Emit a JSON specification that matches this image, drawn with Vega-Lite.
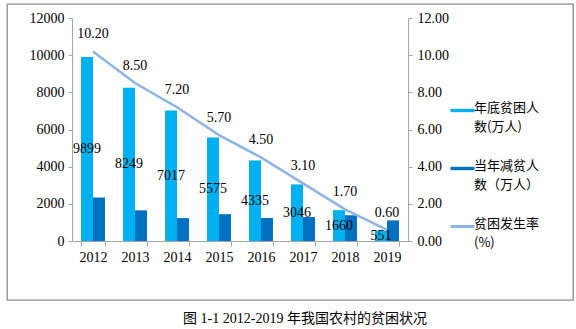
{
  "$schema": "https://vega.github.io/schema/vega-lite/v6.json",
  "width": 566,
  "height": 296,
  "padding": {"left": 7, "top": 4, "right": 3, "bottom": 4},
  "background": "white",
  "config": {
    "view": {"stroke": "#8C8C8C", "strokeWidth": 1.3},
    "font": "Liberation Serif, Noto Sans CJK SC",
    "axis": {
      "grid": false,
      "domainColor": "#A6A6A6",
      "tickColor": "#A6A6A6",
      "labelColor": "#000000",
      "labelFont": "Liberation Serif",
      "labelFontSize": 14,
      "title": null
    }
  },
  "title": {
    "text": "图 1-1 2012-2019 年我国农村的贫困状况",
    "orient": "bottom",
    "anchor": "middle",
    "font": "Liberation Serif, Noto Sans CJK SC",
    "fontSize": 14,
    "fontWeight": "normal",
    "color": "#000000",
    "offset": 12,
    "dx": 15
  },
  "datasets": {
    "people": [
      {"year": "2012", "series": "年底贫困人数(万人)", "value": 9899},
      {"year": "2012", "series": "当年减贫人数（万人）", "value": 2339},
      {"year": "2013", "series": "年底贫困人数(万人)", "value": 8249},
      {"year": "2013", "series": "当年减贫人数（万人）", "value": 1650},
      {"year": "2014", "series": "年底贫困人数(万人)", "value": 7017},
      {"year": "2014", "series": "当年减贫人数（万人）", "value": 1232},
      {"year": "2015", "series": "年底贫困人数(万人)", "value": 5575},
      {"year": "2015", "series": "当年减贫人数（万人）", "value": 1442},
      {"year": "2016", "series": "年底贫困人数(万人)", "value": 4335},
      {"year": "2016", "series": "当年减贫人数（万人）", "value": 1240},
      {"year": "2017", "series": "年底贫困人数(万人)", "value": 3046},
      {"year": "2017", "series": "当年减贫人数（万人）", "value": 1289},
      {"year": "2018", "series": "年底贫困人数(万人)", "value": 1660},
      {"year": "2018", "series": "当年减贫人数（万人）", "value": 1386},
      {"year": "2019", "series": "年底贫困人数(万人)", "value": 551},
      {"year": "2019", "series": "当年减贫人数（万人）", "value": 1109}
    ],
    "rate": [
      {"year": "2012", "series": "贫困发生率(%)", "rate": 10.2},
      {"year": "2013", "series": "贫困发生率(%)", "rate": 8.5},
      {"year": "2014", "series": "贫困发生率(%)", "rate": 7.2},
      {"year": "2015", "series": "贫困发生率(%)", "rate": 5.7},
      {"year": "2016", "series": "贫困发生率(%)", "rate": 4.5},
      {"year": "2017", "series": "贫困发生率(%)", "rate": 3.1},
      {"year": "2018", "series": "贫困发生率(%)", "rate": 1.7},
      {"year": "2019", "series": "贫困发生率(%)", "rate": 0.6}
    ]
  },
  "encoding": {
    "x": {
      "field": "year",
      "type": "nominal",
      "scale": {"range": [65, 401], "paddingInner": 0.43, "paddingOuter": 0.215},
      "axis": {
        "orient": "bottom",
        "offset": -59,
        "labelAngle": 0,
        "tickBand": "extent",
        "tickSize": 5,
        "labelPadding": 4
      }
    }
  },
  "layer": [
    {
      "data": {"name": "people"},
      "mark": {"type": "bar"},
      "encoding": {
        "xOffset": {
          "field": "series",
          "type": "nominal",
          "scale": {"domain": ["年底贫困人数(万人)", "当年减贫人数（万人）"], "paddingInner": 0}
        },
        "y": {
          "field": "value",
          "type": "quantitative",
          "scale": {"domain": [0, 12000], "range": [237, 14], "nice": false},
          "axis": {
            "orient": "left",
            "offset": -65,
            "values": [0, 2000, 4000, 6000, 8000, 10000, 12000],
            "format": "d",
            "tickSize": 4,
            "labelPadding": 4
          }
        },
        "color": {
          "field": "series",
          "type": "nominal",
          "scale": {
            "domain": ["年底贫困人数(万人)", "当年减贫人数（万人）", "贫困发生率(%)"],
            "range": ["#00B0F0", "#0070C0", "#8EB4E3"]
          },
          "legend": {
            "orient": "none",
            "legendX": 449,
            "legendY": 100,
            "title": null,
            "symbolSize": 576,
            "labelFont": "Noto Sans CJK SC",
            "labelFontSize": 13,
            "labelColor": "#000000",
            "labelOffset": 5,
            "labelBaseline": "top",
            "labelLimit": 200,
            "rowPadding": 25,
            "labelExpr": "datum.value == '年底贫困人数(万人)' ? ['年底贫困人', '数(万人)'] : datum.value == '当年减贫人数（万人）' ? ['当年减贫人', '数（万人）'] : ['贫困发生率', '(%)']",
            "encode": {
              "symbols": {
                "update": {
                  "shape": {"signal": "datum.value == '贫困发生率(%)' ? 'M-1,0H1' : 'M-1,-0.14H1V0.14H-1Z'"},
                  "fill": {"signal": "datum.value == '贫困发生率(%)' ? 'transparent' : scale('color', datum.value)"},
                  "stroke": {"signal": "scale('color', datum.value)"},
                  "strokeWidth": {"signal": "datum.value == '贫困发生率(%)' ? 3 : 0"},
                  "opacity": {"value": 1}
                }
              },
              "labels": {
                "update": {
                  "lineHeight": {"value": 19},
                  "dy": {"value": -9}
                }
              }
            }
          }
        }
      }
    },
    {
      "data": {"name": "people"},
      "transform": [{"filter": "datum.series == '年底贫困人数(万人)'"}],
      "mark": {"type": "text", "fontSize": 14, "font": "Liberation Serif", "color": "#000000", "baseline": "middle"},
      "encoding": {
        "xOffset": {"field": "series", "type": "nominal"},
        "y": {
          "field": "value",
          "type": "quantitative",
          "scale": {"domain": [0, 24000], "range": [237, 14], "nice": false},
          "axis": null
        },
        "text": {"field": "value", "type": "quantitative", "format": "d"}
      }
    },
    {
      "data": {"name": "rate"},
      "layer": [
        {
          "mark": {"type": "line", "strokeWidth": 2.5},
          "encoding": {
            "color": {"field": "series", "type": "nominal"}
          }
        },
        {
          "mark": {"type": "text", "fontSize": 14, "font": "Liberation Serif", "color": "#000000", "baseline": "middle", "dy": -17},
          "encoding": {
            "text": {"field": "rate", "type": "quantitative", "format": ".2f"}
          }
        }
      ],
      "encoding": {
        "y": {
          "field": "rate",
          "type": "quantitative",
          "scale": {"domain": [0, 12], "range": [237, 14], "nice": false},
          "axis": {
            "orient": "right",
            "offset": -165,
            "values": [0, 2, 4, 6, 8, 10, 12],
            "format": ".2f",
            "tickSize": 4,
            "labelPadding": 5
          }
        }
      }
    }
  ],
  "resolve": {"scale": {"y": "independent"}}
}
